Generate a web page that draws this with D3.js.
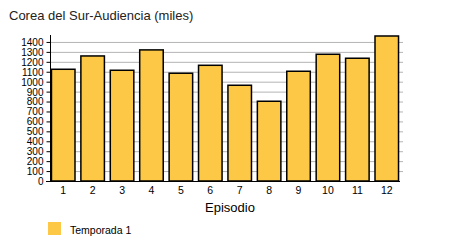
<!DOCTYPE html>
<html>
<head>
<meta charset="utf-8">
<script src="https://cdn.jsdelivr.net/npm/d3@7"></script>
<style>
  body { margin: 0; background: #fff; }
  svg { display: block; font-family: "Liberation Sans", Arial, sans-serif; }
  .grid line { stroke: #b4b4b4; }
</style>
</head>
<body>
<div id="chart"></div>
<script>
const episodes = ['1', '2', '3', '4', '5', '6', '7', '8', '9', '10', '11', '12'];
const audience = [1125, 1259, 1115, 1320, 1085, 1165, 964, 803, 1105, 1276, 1236, 1460];
const yTicks = [0, 100, 200, 300, 400, 500, 600, 700, 800, 900, 1000, 1100, 1200, 1300, 1400];
const seriesName = 'Temporada 1';

const width = 450, height = 250;
const plotLeft = 50, plotRight = 400, plotTop = 35, plotBottom = 181;

const svg = d3.select('#chart').append('svg')
  .attr('width', width).attr('height', height);

const x = d3.scaleBand().domain(episodes).range([plotLeft, plotRight]).paddingInner(0.2).paddingOuter(0.05);
const y = d3.scaleLinear().domain([0, 1470]).range([plotBottom, plotTop]);

// grid
svg.append('g').attr('class', 'grid')
  .selectAll('line').data(yTicks.slice(1)).join('line')
  .attr('x1', plotLeft).attr('x2', plotRight + 3)
  .attr('y1', (d) => y(d) + 0.5).attr('y2', (d) => y(d) + 0.5);

// bars
svg.append('g').selectAll('rect').data(audience).join('rect')
  .attr('x', (d, i) => x(episodes[i]))
  .attr('y', (d) => y(d))
  .attr('width', x.bandwidth())
  .attr('height', (d) => y(0) - y(d))
  .attr('fill', '#fcc845')
  .attr('stroke', '#000')
  .attr('stroke-width', 1.5);

// y axis
const yAxis = svg.append('g').attr('transform', `translate(${plotLeft + 0.5},0)`)
  .call(d3.axisLeft(y).tickValues(yTicks).tickFormat(d3.format('d')).tickSize(4).tickPadding(3));
yAxis.select('.domain').attr('d', `M0,${plotTop}V${plotBottom + 0.5}`).attr('stroke', '#000');
yAxis.selectAll('text').attr('font-size', 10).attr('fill', '#000').attr('dy', '0.34em');
yAxis.attr('font-family', null);

// x axis
const xAxis = svg.append('g').attr('transform', `translate(0,${plotBottom + 0.5})`)
  .call(d3.axisBottom(x).tickSize(0).tickPadding(5));
xAxis.select('.domain').attr('d', `M${plotLeft - 4},0H${plotRight}`).attr('stroke', '#000');
xAxis.selectAll('text').attr('font-size', 10.5).attr('fill', '#000');
xAxis.attr('font-family', null);

// title
svg.append('text').attr('x', 9).attr('y', 20)
  .attr('font-size', 13).attr('fill', '#222')
  .text('Corea del Sur-Audiencia (miles)');

// x label
svg.append('text').attr('x', (plotLeft + plotRight) / 2 + 5).attr('y', 212)
  .attr('text-anchor', 'middle').attr('font-size', 13)
  .text('Episodio');

// legend
svg.append('rect').attr('x', 48).attr('y', 222).attr('width', 13).attr('height', 13)
  .attr('fill', '#fcc845');
svg.append('text').attr('x', 70).attr('y', 234).attr('font-size', 10.5)
  .text(seriesName);
</script>
</body>
</html>
